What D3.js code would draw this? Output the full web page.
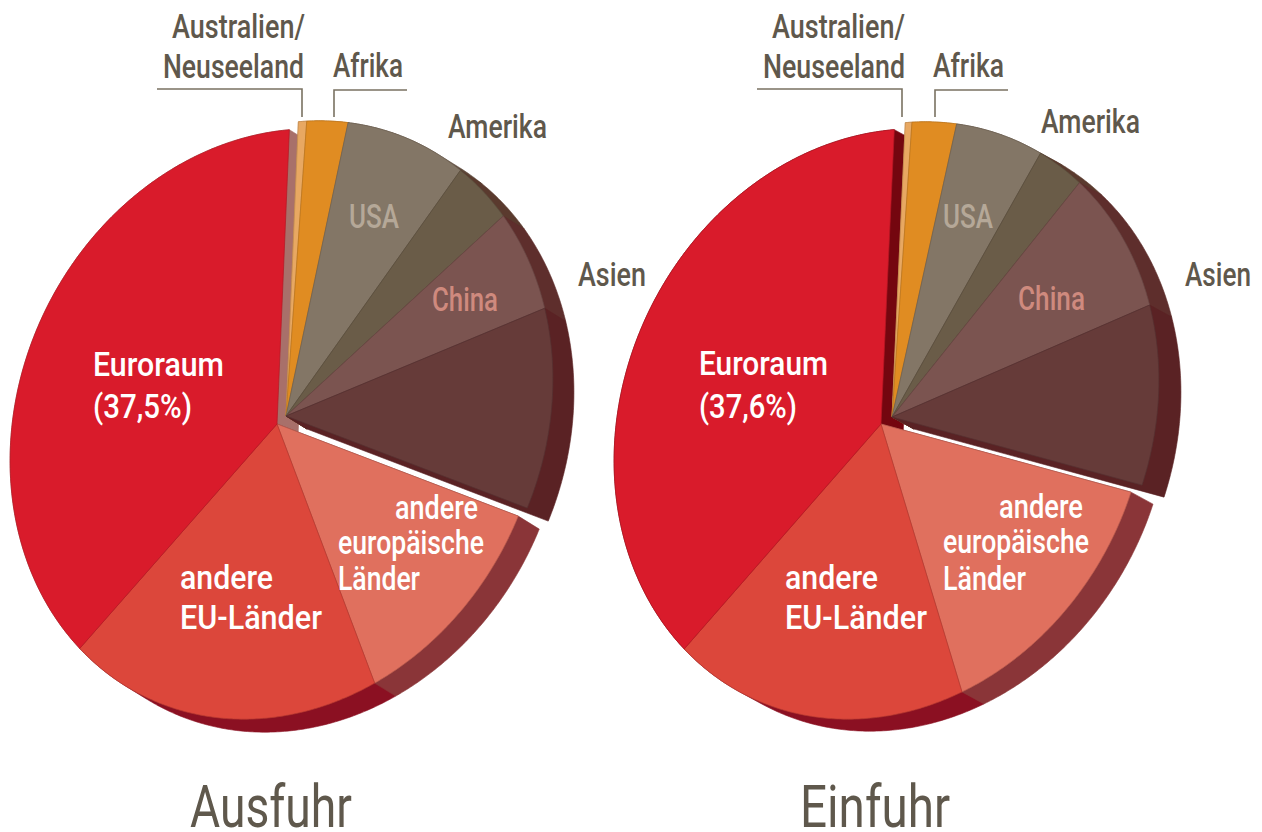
<!DOCTYPE html>
<html><head><meta charset="utf-8">
<script src="https://cdn.jsdelivr.net/npm/d3@7"></script>
<style>body{margin:0;background:#fff;overflow:hidden}</style>
</head>
<body>
<script>
// ---------------- data ----------------
const categories = ["Australien/Neuseeland", "Afrika", "USA", "Amerika (übrige)", "China",
  "Asien (übrige)", "andere europäische Länder", "andere EU-Länder", "Euroraum"];
const regionGroup = ["Welt", "Welt", "Welt", "Welt", "Welt", "Welt", "Europa", "Europa", "Europa"];
const ausfuhrValues = [0.5, 2.5, 7.6, 3.8, 5.9, 11.0, 12.0, 19.2, 37.5];
const einfuhrValues = [0.4, 2.7, 5.5, 3.0, 8.4, 9.9, 14.4, 18.1, 37.6];
const chartTitles = ["Ausfuhr", "Einfuhr"];
const euroShareLabels = ["(37,5%)", "(37,6%)"];

// ---------------- styles ----------------
const topColors = ["#e8a862", "#e08c22", "#837666", "#6a5c48", "#7b5450", "#663b39", "#e0705e", "#dc473b", "#d91b2b"];
const sideColors = ["#c98a4a", "#b86e1a", "#5e4a3c", "#5a3a2e", "#5e2e2c", "#5a2224", "#8a3538", "#8b1022", "#7a0c16"];
const labelGrey = "#5f584c";

const W = 1262, H = 832;
const ellipse = {rx: 258, ry: 303, tilt: 25.5 * Math.PI / 180};
const cosT = Math.cos(ellipse.tilt), sinT = Math.sin(ellipse.tilt);
function project(t, r) {
  const ux = Math.sin(t) * r, uy = -Math.cos(t) * r;
  return [cosT * ellipse.rx * ux - sinT * ellipse.ry * uy,
          sinT * ellipse.rx * ux + cosT * ellipse.ry * uy];
}

const charts = [
  {values: ausfuhrValues, title: chartTitles[0], euro: euroShareLabels[0],
   center: [277, 424], explode: [9, -8], depth: [21, 13], euroSide: "#a8706a", startDeg: -26.6,
   titlePos: [190, 827, 162],
   leaders: [[[157, 89], [302, 89], [302, 117]], [[407, 90], [334, 90], [334, 117]]],
   labels: [
     ["Australien/", 172, 38, 133, labelGrey], ["Neuseeland", 163, 78, 141, labelGrey],
     ["Afrika", 333, 77, 70, labelGrey], ["Amerika", 448, 138, 99, labelGrey],
     ["Asien", 578, 286, 68, labelGrey], ["USA", 349, 228, 50, "#b5a898"],
     ["China", 432, 311, 66, "#cf8a7e"],
     ["Euroraum", 93, 376, 131, "#fff"], ["EURO", 93, 418, 99, "#fff"],
     ["andere", 180, 589, 93, "#fff"], ["EU-Länder", 180, 629, 142, "#fff"],
     ["andere", 395, 519, 83, "#fff"], ["europäische", 338, 554, 146, "#fff"], ["Länder", 338, 590, 82, "#fff"]
   ]},
  {values: einfuhrValues, title: chartTitles[1], euro: euroShareLabels[1],
   center: [881, 424], explode: [11, -7], depth: [22, 12], euroSide: "#74060f", startDeg: -26.4,
   titlePos: [800, 827, 150],
   leaders: [[[757, 89], [902, 89], [902, 117]], [[1008, 90], [935, 90], [935, 117]]],
   labels: [
     ["Australien/", 772, 38, 133, labelGrey], ["Neuseeland", 763, 78, 142, labelGrey],
     ["Afrika", 933, 77, 71, labelGrey], ["Amerika", 1041, 133, 99, labelGrey],
     ["Asien", 1185, 286, 66, labelGrey], ["USA", 943, 228, 50, "#b5a898"],
     ["China", 1018, 310, 67, "#cf8a7e"],
     ["Euroraum", 699, 375, 129, "#fff"], ["EURO", 699, 418, 98, "#fff"],
     ["andere", 785, 589, 93, "#fff"], ["EU-Länder", 785, 629, 142, "#fff"],
     ["andere", 999, 518, 84, "#fff"], ["europäische", 943, 553, 146, "#fff"], ["Länder", 943, 590, 83, "#fff"]
   ]}
];

const svg = d3.select("body").append("svg").attr("width", W).attr("height", H)
  .style("font-family", "Roboto, 'Liberation Sans', sans-serif");

charts.forEach(ch => {
  const start = ch.startDeg * Math.PI / 180;
  const pie = d3.pie().sort(null).value(d => d).startAngle(start).endAngle(start + 2 * Math.PI);
  const arcs = pie(ch.values);
  const slices = arcs.map((a, i) => {
    const off = regionGroup[i] === "Welt" ? ch.explode : [0, 0];
    const cx = ch.center[0] + off[0], cy = ch.center[1] + off[1];
    const n = Math.max(2, Math.ceil((a.endAngle - a.startAngle) / (0.5 * Math.PI / 180)));
    const pts = [[cx, cy]];
    for (let k = 0; k <= n; k++) {
      const t = a.startAngle + (a.endAngle - a.startAngle) * k / n;
      const p = project(t, 1);
      pts.push([cx + p[0], cy + p[1]]);
    }
    const mid = project((a.startAngle + a.endAngle) / 2, 0.6);
    return {i, pts, key: (cx + mid[0]) * ch.depth[0] + (cy + mid[1]) * ch.depth[1]};
  });
  const line = d3.line().curve(d3.curveLinearClosed);
  const g = svg.append("g");
  // side walls (extrusion), back to front
  const [dx, dy] = ch.depth;
  slices.slice().sort((a, b) => a.key - b.key).forEach(s => {
    const hull = d3.polygonHull(s.pts.concat(s.pts.map(p => [p[0] + dx, p[1] + dy])));
    const col = s.i === 8 ? ch.euroSide : sideColors[s.i];
    g.append("path").attr("d", line(hull)).attr("fill", col).attr("stroke", col).attr("stroke-width", 0.6);
  });
  // top faces
  slices.forEach(s => {
    g.append("path").attr("d", line(s.pts)).attr("fill", topColors[s.i])
      .attr("stroke", d3.color(topColors[s.i]).darker(0.5)).attr("stroke-width", 0.7)
      .attr("stroke-linejoin", "round");
  });
  // leader lines
  ch.leaders.forEach(l => {
    g.append("path").attr("d", d3.line()(l)).attr("fill", "none").attr("stroke", "#7a7262").attr("stroke-width", 1.6);
  });
  // labels
  ch.labels.forEach(([txt, x, y, w, fill]) => {
    const t = txt === "EURO" ? ch.euro : txt;
    g.append("text").attr("x", x).attr("y", y).attr("fill", fill).attr("font-size", 33)
      .attr("font-weight", 500)
      .attr("textLength", w).attr("lengthAdjust", "spacingAndGlyphs").text(t);
  });
  g.append("text").attr("x", ch.titlePos[0]).attr("y", ch.titlePos[1]).attr("fill", labelGrey)
    .attr("font-size", 60).attr("textLength", ch.titlePos[2]).attr("lengthAdjust", "spacingAndGlyphs")
    .text(ch.title);
});
</script>
</body></html>
